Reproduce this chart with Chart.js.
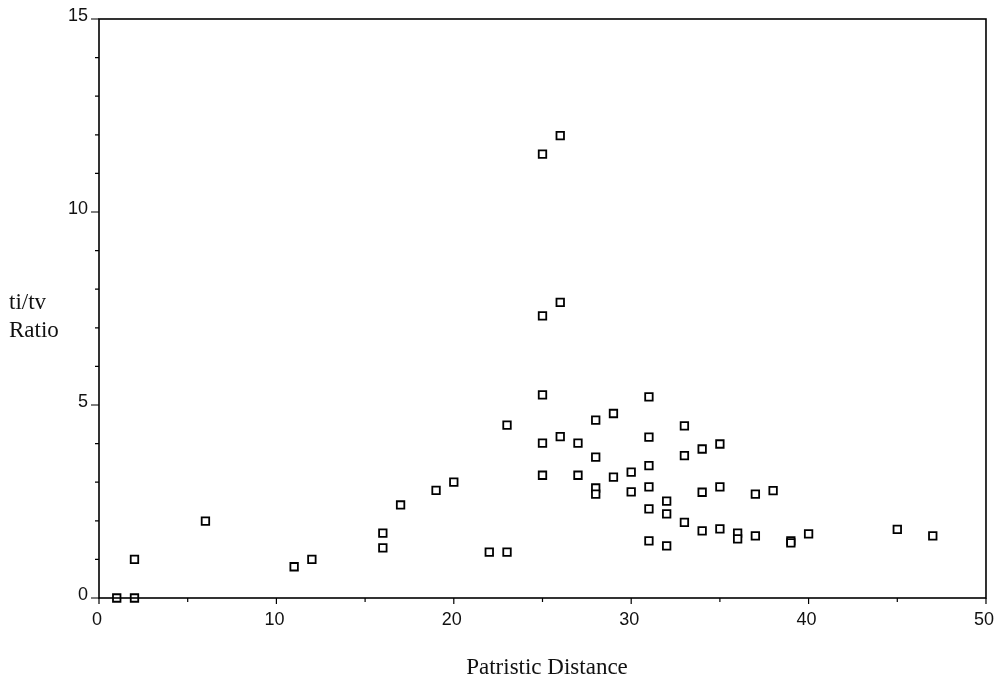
<!DOCTYPE html>
<html><head><meta charset="utf-8">
<script src="https://cdn.jsdelivr.net/npm/chart.js@4"></script>
<style>html,body{margin:0;padding:0;background:#fff;}#wrap{width:999px;height:678px;}</style>
</head><body><div id="wrap"><canvas id="c" width="999" height="678"></canvas></div>
<script>
// Patristic distance (x) and ti/tv ratio (y) for each pair
const xValues = [1, 2, 2, 6, 11, 12, 16, 16, 17, 19, 20, 22, 23, 23,
  25, 26, 25, 26, 25, 25, 25, 26, 27, 27, 28, 28, 28, 28, 29, 29, 30, 30,
  31, 31, 31, 31, 31, 31, 32, 32, 32, 33, 33, 33, 34, 34, 34, 35, 35, 35,
  36, 36, 37, 37, 38, 39, 39, 40, 45, 47];
const yValues = [0, 0, 1.0, 1.99, 0.81, 1.0, 1.68, 1.30, 2.41, 2.79, 3.0, 1.19, 1.19, 4.48,
  11.50, 11.98, 7.31, 7.66, 5.26, 4.01, 3.18, 4.18, 4.01, 3.18, 4.61, 3.65, 2.85, 2.69, 4.78, 3.13, 3.26, 2.75,
  5.21, 4.17, 3.43, 2.88, 2.31, 1.48, 2.51, 2.18, 1.35, 4.46, 3.69, 1.96, 3.86, 2.74, 1.74, 3.99, 2.88, 1.79,
  1.68, 1.53, 2.69, 1.61, 2.78, 1.48, 1.43, 1.66, 1.78, 1.61];
const xTickLabels = [0, 10, 20, 30, 40, 50];
const yTickLabels = [0, 5, 10, 15];
const xMinorStep = 5;
const yMinorStep = 1;
const xTitle = 'Patristic Distance';
const yTitleLines = ['ti/tv', 'Ratio'];

const points = xValues.map((x, i) => ({ x: x, y: yValues[i] }));

const framePlugin = {
  id: 'frame',
  afterDraw(chart) {
    const ctx = chart.ctx;
    const a = chart.chartArea;
    const xs = chart.scales.x, ys = chart.scales.y;
    ctx.save();
    ctx.strokeStyle = '#000';
    ctx.lineWidth = 1.6;
    ctx.strokeRect(a.left, a.top, a.right - a.left, a.bottom - a.top);
    ctx.lineWidth = 1.2;
    ctx.beginPath();
    for (let v = ys.min; v <= ys.max; v += yMinorStep) {
      const p = ys.getPixelForValue(v);
      const len = yTickLabels.includes(v) ? 8 : 4;
      ctx.moveTo(a.left - len, p); ctx.lineTo(a.left, p);
    }
    for (let v = xs.min; v <= xs.max; v += xMinorStep) {
      const p = xs.getPixelForValue(v);
      const len = xTickLabels.includes(v) ? 6 : 4;
      ctx.moveTo(p, a.bottom); ctx.lineTo(p, a.bottom + len);
    }
    ctx.stroke();
    ctx.fillStyle = '#111';
    ctx.font = '23px "Liberation Serif", "Times New Roman", serif';
    ctx.textBaseline = 'alphabetic';
    ctx.textAlign = 'left';
    ctx.fillText(yTitleLines[0], 9, 309);
    ctx.fillText(yTitleLines[1], 9, 337);
    ctx.textAlign = 'center';
    ctx.fillText(xTitle, 547, 674);
    ctx.restore();
  }
};

new Chart(document.getElementById('c'), {
  type: 'scatter',
  data: {
    datasets: [{
      data: points,
      pointStyle: 'rect',
      radius: 5.3,
      hoverRadius: 5.3,
      borderWidth: 1.8,
      borderColor: '#000',
      backgroundColor: '#fff',
      clip: false
    }]
  },
  options: {
    responsive: false,
    animation: false,
    devicePixelRatio: 1,
    layout: { padding: { left: 0, right: 7, top: 19, bottom: 0 } },
    plugins: { legend: { display: false }, tooltip: { enabled: false } },
    scales: {
      x: {
        type: 'linear', min: 0, max: 50,
        afterBuildTicks: s => { s.ticks = xTickLabels.map(v => ({ value: v })); },
        afterFit: s => { s.height = 80; },
        grid: { display: false },
        border: { display: false },
        ticks: {
          padding: 3, labelOffset: -2, maxRotation: 0,
          color: '#111',
          font: { family: '"Liberation Sans", Arial, sans-serif', size: 18 }
        }
      },
      y: {
        type: 'linear', min: 0, max: 15,
        afterBuildTicks: s => { s.ticks = yTickLabels.map(v => ({ value: v })); },
        afterFit: s => { s.width = 99; },
        grid: { display: false },
        border: { display: false },
        ticks: {
          padding: 3, labelOffset: -3,
          color: '#111',
          font: { family: '"Liberation Sans", Arial, sans-serif', size: 18 }
        }
      }
    }
  },
  plugins: [framePlugin]
});
</script>
</body></html>
